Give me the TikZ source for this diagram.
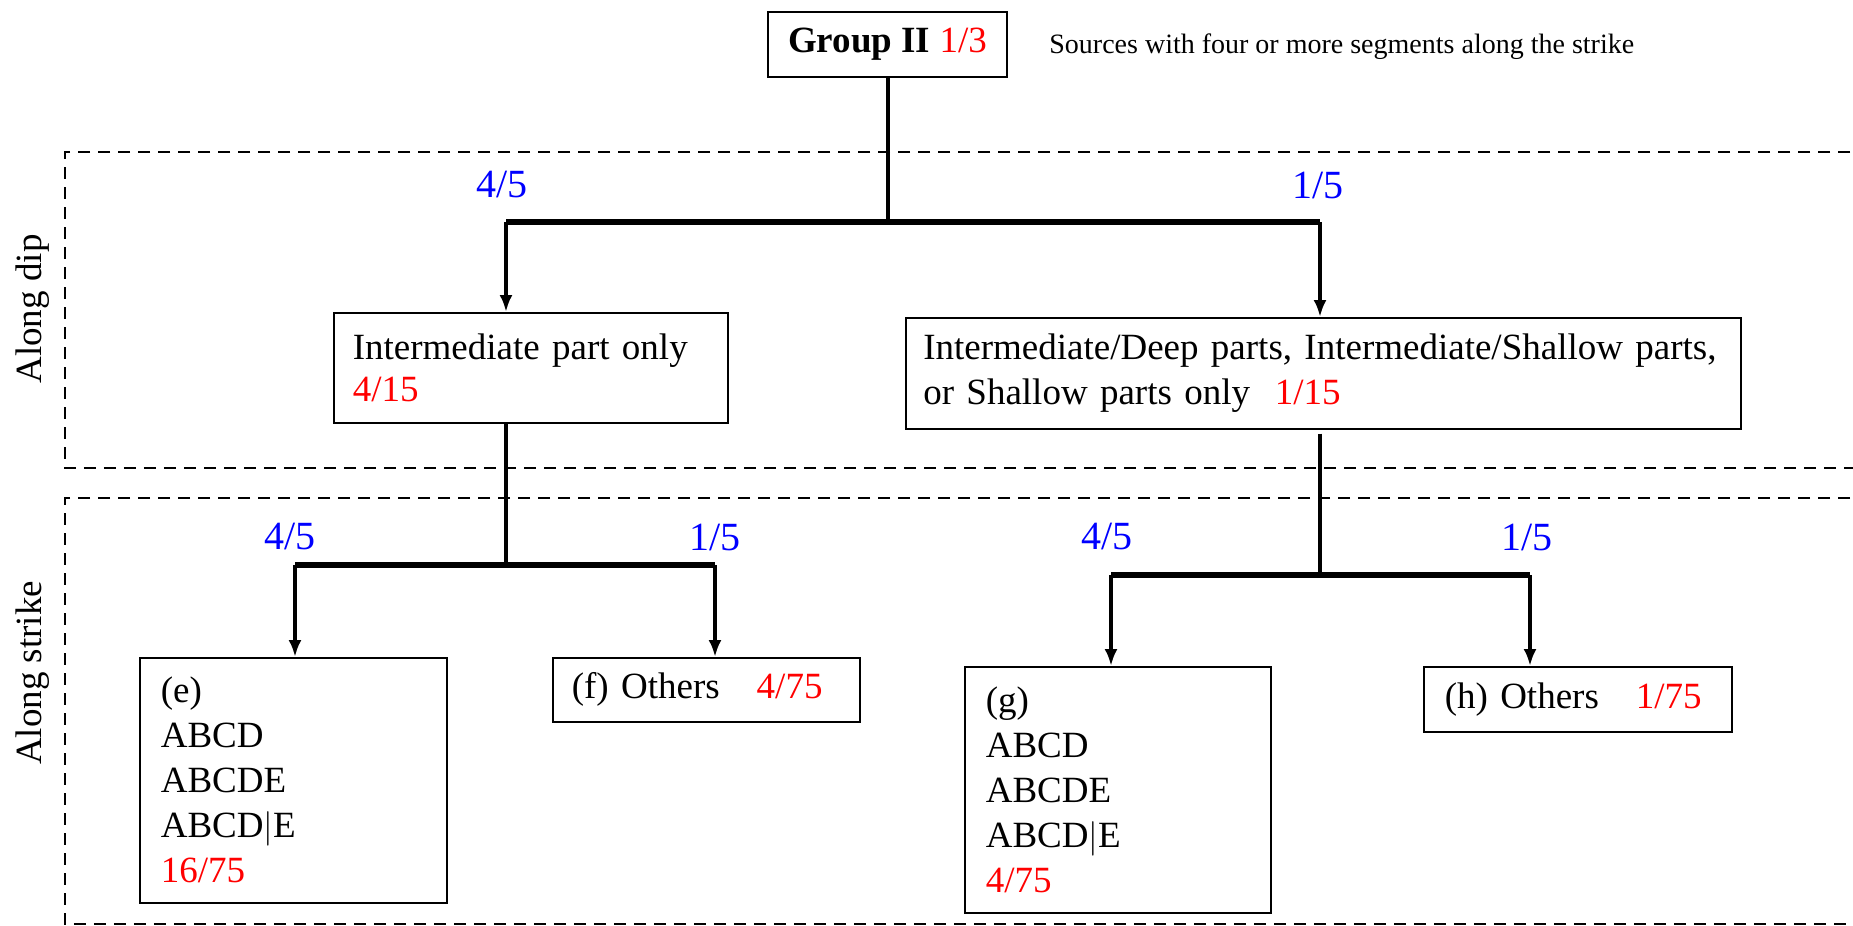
\documentclass[tikz,border=0pt]{standalone}
\usepackage{fontspec}
\setmainfont{Liberation Serif}
\usetikzlibrary{arrows.meta}
\begin{document}
\begin{tikzpicture}[x=0.5pt,y=-0.5pt,
  box/.style={draw, line width=0.8pt, inner ysep=0pt, align=left, anchor=north west,
    font=\fontsize{18.5}{22.5}\selectfont},
  conn/.style={line width=2pt},
  bar/.style={line width=2.8pt},
  arr/.style={line width=2pt, -{Latex[length=8.5pt,width=6.5pt]}},
  frac/.style={text=blue, font=\fontsize{20}{24}\selectfont},
  region/.style={dash pattern=on 6pt off 4pt, line width=0.9pt},
  side/.style={rotate=90, font=\fontsize{18.5}{22}\selectfont}]
\useasboundingbox (0,0) rectangle (1853,926);

% dashed regions
\draw[region] (1870,152) -- (65,152) -- (65,468) -- (1870,468);
\draw[region] (1870,498) -- (65,498) -- (65,924) -- (1870,924);
\node[side] (dip) at (33,309) {Along dip};
\node[side] (strike) at (33,673) {Along strike};

% top
\node[draw, line width=0.8pt, minimum width=119.5pt, minimum height=32.5pt, inner sep=0pt,
  font=\fontsize{18.5}{22}\selectfont] (group) at (887.5,44.5)
  {\textbf{Group II} \textcolor{red}{1/3}};
\node[anchor=west, inner sep=0pt, font=\fontsize{14}{16}\selectfont] (src) at (1049,47)
  {Sources with four or more segments along the strike};

% level 1 boxes
\node[box, inner xsep=9.5pt, text width=178pt, minimum height=55pt,
  font=\fontsize{18.5}{21}\selectfont] (inter) at (333,312)
  {Intermediate part only\\\textcolor{red}{4/15}};
\node[box, inner xsep=8.75pt, text width=400pt, minimum height=55.5pt] (deep) at (905,317)
  {Intermediate/Deep parts, Intermediate/Shallow parts,\\or Shallow parts only\ \ \textcolor{red}{1/15}};

% level 2 boxes
\node[box, inner xsep=10.5pt, text width=132.5pt, minimum height=122.5pt] (e) at (139,657)
  {(e)\\ABCD\\ABCDE\\ABCD$|$E\\\textcolor{red}{16/75}};
\node[box, inner xsep=9.5pt, text width=134.5pt, minimum height=32pt] (f) at (552,657)
  {(f) Others\quad\textcolor{red}{4/75}};
\node[box, inner xsep=10.5pt, text width=132pt, minimum height=123pt] (g) at (964,666)
  {(g)\\ABCD\\ABCDE\\ABCD$|$E\\\textcolor{red}{4/75}};
\node[box, inner xsep=10.5pt, text width=133pt, minimum height=32.5pt] (h) at (1423,666)
  {(h) Others\quad\textcolor{red}{1/75}};

% junction coordinates
\coordinate (j1) at (887.5,222);
\coordinate (b1l) at (506,222);
\coordinate (b1r) at (1320,222);
\coordinate (j2) at (506,565);
\coordinate (b2l) at (295,565);
\coordinate (b2r) at (715,565);
\coordinate (j3) at (1320,575);
\coordinate (b3l) at (1111,575);
\coordinate (b3r) at (1530,575);

% connectors
\draw[conn] (group.south) -- (j1);
\draw[bar] (b1l) -- (b1r);
\draw[arr] (b1l) -- (b1l |- inter.north);
\draw[arr] (b1r) -- (b1r |- deep.north);

\draw[conn] (j2 |- inter.south) -- (j2);
\draw[bar] (b2l) -- (b2r);
\draw[arr] (b2l) -- (b2l |- e.north);
\draw[arr] (b2r) -- (b2r |- f.north);

\draw[conn] (j3 |- deep.south) ++(0,4) -- (j3);
\draw[bar] (b3l) -- (b3r);
\draw[arr] (b3l) -- (b3l |- g.north);
\draw[arr] (b3r) -- (b3r |- h.north);

% probabilities
\node[frac] (p1) at (502,185) {4/5};
\node[frac] (p2) at (1318,185) {1/5};
\node[frac] (p3) at (290,537) {4/5};
\node[frac] (p4) at (715,537) {1/5};
\node[frac] (p5) at (1107,537) {4/5};
\node[frac] (p6) at (1527,537) {1/5};
\end{tikzpicture}
\end{document}
